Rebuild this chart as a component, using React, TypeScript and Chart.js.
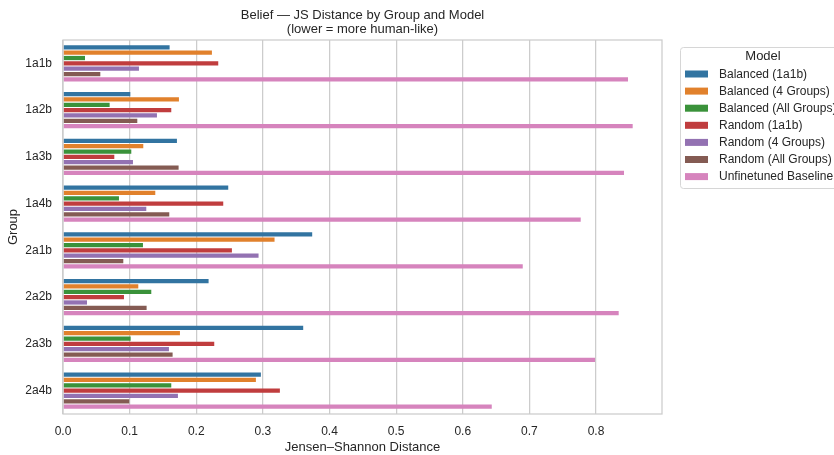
import React, { useEffect, useRef } from "react";
import { Chart, registerables } from "chart.js";

Chart.register(...registerables);

const FONT = '"Liberation Sans", Arial, sans-serif';
const TEXT = "#262626";
const GRID = "#cccccc";

const groups = ["1a1b", "1a2b", "1a3b", "1a4b", "2a1b", "2a2b", "2a3b", "2a4b"];

const modelNames = [
  "Balanced (1a1b)",
  "Balanced (4 Groups)",
  "Balanced (All Groups)",
  "Random (1a1b)",
  "Random (4 Groups)",
  "Random (All Groups)",
  "Unfinetuned Baseline",
];

const modelColors = ["#3274a1", "#e1812c", "#3a923a", "#c03d3e", "#9372b2", "#845b53", "#d684bd"];

// JS distance per group, one array per model
const balanced1a1b = [0.160, 0.101, 0.171, 0.248, 0.374, 0.2185, 0.3605, 0.297];
const balanced4Groups = [0.2235, 0.174, 0.1205, 0.1385, 0.3175, 0.113, 0.1755, 0.2895];
const balancedAllGroups = [0.033, 0.070, 0.1025, 0.084, 0.120, 0.1325, 0.1015, 0.1625];
const random1a1b = [0.233, 0.1625, 0.077, 0.2405, 0.2535, 0.0915, 0.227, 0.3255];
const random4Groups = [0.114, 0.141, 0.105, 0.125, 0.2935, 0.036, 0.159, 0.1725];
const randomAllGroups = [0.056, 0.1115, 0.1735, 0.1595, 0.0905, 0.1255, 0.1645, 0.0995];
const unfinetunedBaseline = [0.848, 0.855, 0.842, 0.777, 0.690, 0.834, 0.7985, 0.6435];

const seriesValues = [
  balanced1a1b,
  balanced4Groups,
  balancedAllGroups,
  random1a1b,
  random4Groups,
  randomAllGroups,
  unfinetunedBaseline,
];

const titleLines = ["Belief \u2014 JS Distance by Group and Model", "(lower = more human-like)"];
const xAxisTitle = "Jensen\u2013Shannon Distance";
const yAxisTitle = "Group";
const legendTitle = "Model";
const xMax = 0.899;

// Frame, title and legend drawn on top of the chart
const decorPlugin = {
  id: "decor",
  afterDraw(chart: any) {
    const { ctx, chartArea: a } = chart;
    ctx.save();
    ctx.strokeStyle = GRID;
    ctx.lineWidth = 1.25;
    ctx.strokeRect(a.left, a.top, a.right - a.left, a.bottom - a.top);

    ctx.fillStyle = TEXT;
    ctx.font = `13px ${FONT}`;
    ctx.textAlign = "center";
    ctx.textBaseline = "middle";
    const cx = (a.left + a.right) / 2;
    titleLines.forEach((t, i) => ctx.fillText(t, cx, 15.5 + i * 14.3));

    // legend box
    const bx = 680.5, by = 47.5, bw = 170, bh = 141;
    ctx.beginPath();
    if ((ctx as any).roundRect) (ctx as any).roundRect(bx, by, bw, bh, 3);
    else ctx.rect(bx, by, bw, bh);
    ctx.fillStyle = "#ffffff";
    ctx.fill();
    ctx.strokeStyle = "#d6d6d6";
    ctx.lineWidth = 1;
    ctx.stroke();

    ctx.fillStyle = TEXT;
    ctx.font = `13px ${FONT}`;
    ctx.textAlign = "center";
    ctx.fillText(legendTitle, 763, 56.5);

    ctx.font = `12px ${FONT}`;
    ctx.textAlign = "left";
    modelNames.forEach((name, i) => {
      const yc = 74 + i * 17.1;
      ctx.fillStyle = modelColors[i];
      ctx.fillRect(685, yc - 3.5, 23, 7);
      ctx.fillStyle = TEXT;
      ctx.fillText(name, 719, yc + 0.5);
    });
    ctx.restore();
  },
};

export default function App() {
  const canvasRef = useRef<HTMLCanvasElement | null>(null);

  useEffect(() => {
    const canvas = canvasRef.current;
    if (!canvas) return;
    const chart = new Chart(canvas, {
      type: "bar",
      data: {
        labels: groups,
        datasets: modelNames.map((name, i) => ({
          label: name,
          data: seriesValues[i],
          backgroundColor: modelColors[i],
          borderWidth: 0,
          categoryPercentage: 0.8,
          barPercentage: 0.8,
        })),
      },
      options: {
        indexAxis: "y",
        responsive: false,
        animation: false,
        devicePixelRatio: 1,
        layout: { padding: { top: 40, right: 172, left: 0, bottom: 0 } },
        plugins: {
          legend: { display: false },
          title: { display: false },
          tooltip: { enabled: false },
        },
        scales: {
          x: {
            type: "linear",
            min: 0,
            max: xMax,
            afterFit(scale: any) {
              scale.height = 41;
            },
            afterBuildTicks(scale: any) {
              scale.ticks = scale.ticks.filter(
                (t: any) => Math.abs(t.value * 10 - Math.round(t.value * 10)) < 1e-6
              );
            },
            ticks: {
              stepSize: 0.1,
              color: TEXT,
              font: { family: FONT, size: 12 },
              padding: 10,
              callback: (v: any) => Number(v).toFixed(1),
            },
            grid: { color: GRID, lineWidth: 1.25, drawTicks: false },
            border: { display: false },
            title: {
              display: true,
              text: xAxisTitle,
              color: TEXT,
              font: { family: FONT, size: 13 },
              padding: { top: 0, bottom: 0 },
            },
          },
          y: {
            type: "category",
            afterFit(scale: any) {
              scale.width = 63;
            },
            ticks: {
              color: TEXT,
              font: { family: FONT, size: 12 },
              padding: 11,
            },
            grid: { display: false, drawTicks: false },
            border: { display: false },
            title: {
              display: true,
              text: yAxisTitle,
              color: TEXT,
              font: { family: FONT, size: 13 },
              padding: { top: 6, bottom: 0 },
            },
          },
        },
      },
      plugins: [decorPlugin],
    });
    return () => chart.destroy();
  }, []);

  return (
    <div style={{ position: "absolute", left: 0, top: 0, width: 834, height: 455, background: "#ffffff" }}>
      <canvas ref={canvasRef} width={834} height={455} />
    </div>
  );
}
